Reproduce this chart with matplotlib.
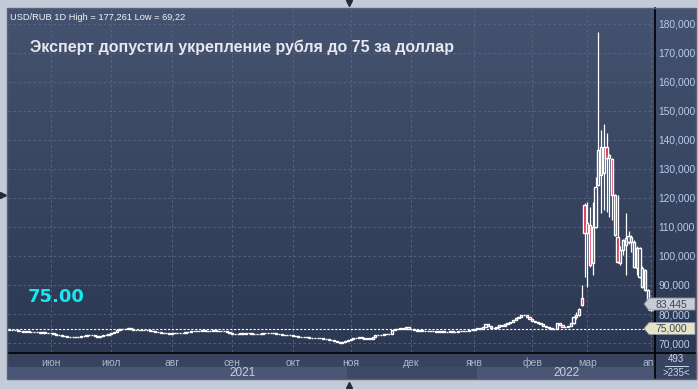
import numpy as np
import pandas as pd
import matplotlib.pyplot as plt
from matplotlib.patches import Rectangle, Polygon
from matplotlib.lines import Line2D

W, H = 698, 389

# ---- data ----
start_date = '2021-05-11'

# daily closes, calm period (May 2021 - Feb 2022)
close_calm = [
    74.6, 74.4, 74.5, 74.1, 74.0, 73.9, 74.0, 73.8, 73.9, 73.7,
    73.8, 73.6, 73.7, 73.5, 73.6, 73.4, 73.1, 72.9, 72.6, 72.4,
    72.3, 72.2, 72.0, 72.1, 71.9, 72.1, 72.3, 72.5, 72.7, 72.8,
    72.6, 72.4, 72.2, 72.3, 72.6, 72.9, 73.1, 73.4, 73.9, 74.6,
    74.9, 74.7, 75.0, 75.2, 74.8, 74.6, 74.5, 74.4, 74.5, 74.6,
    74.5, 74.3, 74.0, 73.9, 73.7, 73.5, 73.4, 73.3, 73.2, 73.3,
    73.4, 73.5, 73.4, 73.6, 73.7, 73.8, 74.0, 74.1, 74.0, 74.2,
    74.3, 74.2, 74.1, 74.2, 74.3, 74.2, 74.1, 74.0, 74.1, 73.8,
    73.4, 73.1, 73.0, 73.2, 73.3, 73.2, 73.4, 73.3, 73.1, 73.0,
    73.1, 73.2, 73.4, 73.5, 73.4, 73.5, 73.3, 73.1, 73.0, 72.9,
    72.8, 72.7, 72.8, 72.5, 72.3, 72.1, 72.0, 72.0, 71.9, 71.8,
    71.7, 71.8, 71.7, 71.6, 71.4, 71.3, 71.2, 71.0, 70.8, 70.4,
    70.1, 70.3, 70.6, 71.0, 71.4, 71.6, 71.8, 71.9, 71.7, 71.5,
    71.6, 71.5, 72.0, 72.6, 72.8, 72.9, 73.1, 73.0, 73.2, 74.4,
    74.8, 74.9, 75.2, 75.0, 75.4, 74.9, 74.7, 74.5, 74.3, 74.4,
    74.2, 74.1, 74.2, 74.0, 74.1, 73.9, 73.9, 74.0, 73.8, 73.9,
    74.0, 73.9, 73.8, 74.0, 74.1, 74.0, 74.3, 74.5, 74.4, 74.8,
    75.1, 74.9, 75.6, 76.5, 75.8, 75.3, 75.1, 75.6, 76.2, 76.0,
    76.4, 76.8, 77.2, 77.8, 78.6, 79.1, 79.5, 79.8, 79.0, 78.2,
    77.6, 77.3, 76.8, 76.4, 75.9, 75.6, 75.2, 74.8, 75.0, 77.0,
    76.2, 75.6, 75.4, 76.0, 76.8,
]

# full OHLC for the spike (late Feb - early Apr 2022)
spike_open = [77.0, 78.9, 79.7, 85.5, 117.6, 108.0, 110.7, 97.6, 110.0, 124.5,
              137.6, 128.6, 137.6, 133.8, 133.4, 121.0, 106.6, 97.6, 102.0, 103.8,
              104.8, 106.6, 96.2, 95.9, 92.8, 89.3, 95.2, 82.4, 83.8, 81.4]
spike_high = [79.3, 80.6, 82.0, 90.0, 118.3, 118.6, 116.9, 118.6, 127.2, 177.261,
              143.4, 145.5, 142.4, 135.2, 133.8, 121.5, 121.0, 103.5, 106.0, 114.8,
              108.6, 107.2, 105.5, 103.5, 103.0, 96.5, 95.6, 88.6, 84.2, 85.5]
spike_low = [76.6, 78.4, 79.3, 82.9, 92.8, 89.3, 96.2, 93.4, 109.5, 124.0,
             114.8, 115.9, 115.2, 113.4, 112.4, 106.8, 97.6, 97.0, 100.5, 93.4,
             104.0, 101.5, 95.9, 93.5, 92.5, 89.0, 88.0, 81.5, 81.2, 81.3]
spike_close = [78.9, 79.7, 81.6, 83.2, 108.0, 111.4, 96.9, 110.0, 123.8, 136.6,
               127.9, 137.6, 133.8, 134.8, 121.0, 107.2, 97.9, 102.0, 105.5, 106.2,
               106.9, 104.8, 104.8, 102.8, 102.8, 95.9, 88.3, 88.3, 81.4, 83.445]

month_labels = ['июн', 'июл', 'авг', 'сен', 'окт', 'ноя', 'дек', 'янв', 'фев', 'мар', 'апр']
y_ticks = [70, 80, 90, 100, 110, 120, 130, 140, 150, 160, 170, 180]
target_level = 75.0
last_price = 83.445

# ---- assemble ----
close = np.array(close_calm + spike_close)
open_ = np.array([close_calm[0]] + close_calm[:-1] + spike_open)
n = len(close)
x = np.arange(n)
dates = pd.bdate_range(start_date, periods=n)
month_start = [i for i in range(1, n) if dates[i].month != dates[i - 1].month]
x_spike = x[len(close_calm):]

BG_TOP = np.array([0x45, 0x53, 0x70]) / 255
BG_BOT = np.array([0x2c, 0x38, 0x52]) / 255
RED = '#e0123c'
GRID = '#5a6884'

def fx(px):
    return px / W

def fy(py):
    return 1 - py / H

plt.rcParams['font.family'] = ['Liberation Sans', 'DejaVu Sans']
fig = plt.figure(figsize=(W / 100, H / 100), dpi=100, facecolor='#c3cbd8')

# gradient background for plot + right panel
bg = fig.add_axes([fx(8), fy(352), fx(696 - 8), (352 - 8) / H])
grad = np.linspace(0, 1, 256)[:, None, None] * (BG_BOT - BG_TOP) + BG_TOP
bg.imshow(grad, aspect='auto', extent=[0, 1, 0, 1], origin='upper')
bg.set_axis_off()

ax = fig.add_axes([fx(8), fy(352), fx(655 - 8), (352 - 8) / H])
ax.set_facecolor('none')
for s in ax.spines.values():
    s.set_visible(False)

# candles
ax.vlines(x_spike, spike_low, spike_high, color='white', lw=0.9, zorder=3)
up = close >= open_
body_bot = np.minimum(open_, close)
body_h = np.maximum(np.abs(close - open_), 0.12)
face = [tuple(BG_BOT) if u else RED for u in up]
ax.bar(x, body_h, bottom=body_bot, width=0.8, color=face,
       edgecolor='white', linewidth=1.0, zorder=4)

ax.axhline(target_level, color='white', lw=0.8, ls=(0, (2, 1.5)), zorder=5)

ax.set_xlim(-0.5, n - 0.4)
ax.set_ylim(66.9, 185.5)
ax.set_yticks(y_ticks)
ax.set_yticklabels([f'{v:.3f}'.replace('.', ',') for v in y_ticks])
ax.yaxis.tick_right()
ax.set_xticks(month_start)
ax.set_xticklabels(month_labels)
ax.tick_params(axis='y', length=0, pad=2.5, labelsize=7.4, labelcolor='#b4cdee')
ax.tick_params(axis='x', length=0, pad=4, labelsize=7.5, labelcolor='#aab8ce')
ax.grid(True, color=GRID, lw=0.6, ls=(0, (3, 3)))
ax.set_axisbelow(True)

# bottom panel (drawn under axes)
fig.add_artist(Rectangle((fx(8), fy(378)), fx(655 - 8), (378 - 352) / H,
                         transform=fig.transFigure, color='#37435f', zorder=-2))
for a, b, c in [(8, 347, '#4a5674'), (347, 477, '#3d4966'), (477, 655, '#4a5674')]:
    fig.add_artist(Rectangle((fx(a), fy(378)), fx(b - a), (378 - 367) / H,
                             transform=fig.transFigure, color=c, zorder=-1))
fig.text(fx(243), fy(373), '2021', ha='center', va='center', fontsize=8.5, color='#c6d0e0')
fig.text(fx(566), fy(373), '2022', ha='center', va='center', fontsize=8.5, color='#c6d0e0')

# bottom-right box covers the clipped "апр"
fig.add_artist(Rectangle((fx(655), fy(378)), fx(696 - 655), (378 - 352) / H,
                         transform=fig.transFigure, color='#37435f', zorder=5))
fig.text(fx(676), fy(359.5), '493', ha='center', va='center', fontsize=7, color='#c8d8f0', zorder=6)
fig.add_artist(Line2D([fx(665), fx(688)], [fy(366)] * 2, transform=fig.transFigure,
                      color='#c8d8f0', lw=0.7, zorder=6))
fig.text(fx(676), fy(372.5), '>235<', ha='center', va='center', fontsize=7, color='#c8d8f0', zorder=6)

# frame lines
fig.add_artist(Line2D([fx(655), fx(655)], [fy(8), fy(378)], transform=fig.transFigure,
                      color='black', lw=1.2, zorder=6))
fig.add_artist(Line2D([fx(8), fx(696)], [fy(352.5), fy(352.5)], transform=fig.transFigure,
                      color='black', lw=1.2, zorder=6))
fig.add_artist(Rectangle((fx(7.5), fy(378.5)), fx(696 - 7.5), (378.5 - 7.5) / H,
                         transform=fig.transFigure, fill=False, edgecolor='#59627a',
                         lw=1, zorder=6))

# price tags on the right axis
def tag(py, text, fill):
    pts = [(644, py), (649, py - 6), (695, py - 6), (695, py + 6), (649, py + 6)]
    fig.add_artist(Polygon([(fx(a), fy(b)) for a, b in pts], closed=True,
                           transform=fig.transFigure, facecolor=fill,
                           edgecolor='#8a92a0', lw=0.6, zorder=7))
    fig.text(fx(671), fy(py), text, ha='center', va='center', fontsize=7.5,
             color='#3a4660', zorder=8)

y0, y1 = ax.get_ylim()
def price_py(v):
    return 352 - (v - y0) / (y1 - y0) * (352 - 8)

tag(price_py(last_price), f'{last_price:.3f}'.replace('.', ','), '#c8cdd5')
tag(price_py(target_level), f'{target_level:.3f}'.replace('.', ','), '#e4e4c6')

# texts
fig.text(fx(10), fy(17), 'USD/RUB 1D High = 177,261 Low = 69,22', ha='left', va='center',
         fontsize=6.7, color='#f2f2f6')
fig.text(fx(30), fy(47), 'Эксперт допустил укрепление рубля до 75 за доллар', ha='left',
         va='center', fontsize=11.5, fontweight='bold', color='#e6e8ee')
fig.text(fx(28), fy(297), '75.00', ha='left', va='center', fontsize=13, fontweight='bold',
         color='#14e8f0', family='DejaVu Sans')

# small navigation triangles
for (px_, py_, m) in [(349, 3, 'v'), (349, 385, '^'), (3, 195, '>')]:
    fig.add_artist(Line2D([fx(px_)], [fy(py_)], transform=fig.transFigure, marker=m,
                          markersize=4, color='#262a33', lw=0))

plt.savefig('out.png', dpi=100)
